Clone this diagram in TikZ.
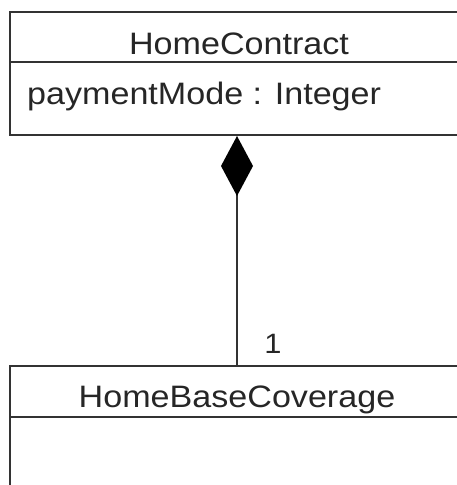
\documentclass[tikz,border=0pt]{standalone}
\usepackage{fontspec}
\setmainfont[FakeStretch=1.1]{Liberation Sans}
\usetikzlibrary{arrows.meta}
\definecolor{ln}{HTML}{333333}
\definecolor{tx}{HTML}{262626}
\begin{document}
\begin{tikzpicture}[x=1pt,y=-1pt,
  classbox/.style={draw=ln, line width=2pt, minimum width=454pt, inner sep=0pt},
  lbl/.style={text=tx, font=\fontsize{31}{36}\selectfont, inner sep=0pt},
  conn/.style={draw=ln, line width=2pt}]
\useasboundingbox (0,0) rectangle (457,485);
\clip (0,0) rectangle (457,485);
\node[classbox, minimum height=123pt] (hc) at (237,73.5) {};
\draw[conn] (10,62) -- (464,62);
\node[lbl, anchor=base] (hcn) at (239,54) {HomeContract};
\node[lbl, anchor=base west] (attr) at (27,104) {paymentMode : Integer};
\node[classbox, minimum height=154pt] (hbc) at (237,443) {};
\draw[conn] (10,417) -- (464,417);
\node[lbl, anchor=base] (hbcn) at (237,407) {HomeBaseCoverage};
\draw[conn, {Diamond[length=60pt,width=32pt,color=black,fill=black]}-] (hc.south) -- (hbc.north);
\node[lbl, anchor=base, font=\fontsize{28}{32}\selectfont] (m1) at (273,353) {1};
\end{tikzpicture}
\end{document}
